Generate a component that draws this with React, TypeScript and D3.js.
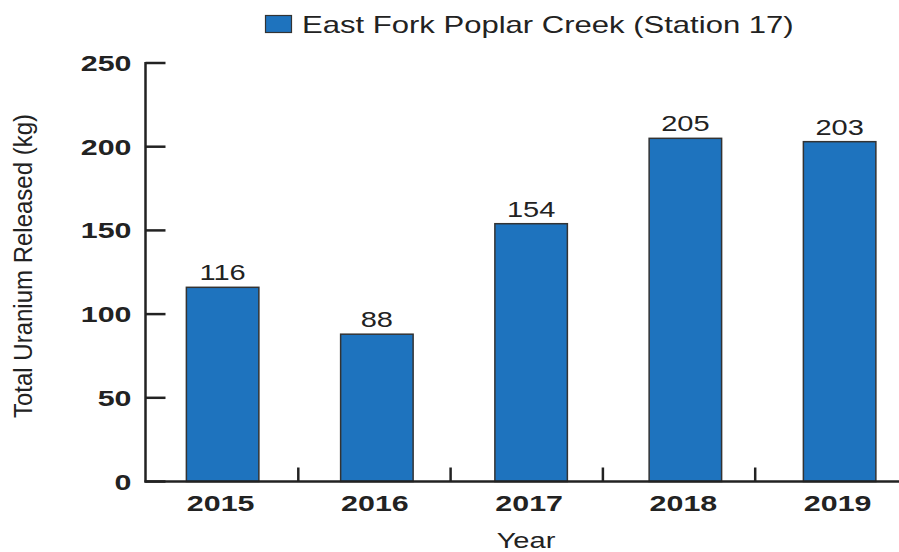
import React from "react";
import * as d3 from "d3";

const years = ["2015", "2016", "2017", "2018", "2019"];
const released = [116, 88, 154, 205, 203];
const yTicks = [0, 50, 100, 150, 200, 250];
const seriesName = "East Fork Poplar Creek (Station 17)";
const yTitle = "Total Uranium Released (kg)";
const xTitle = "Year";

const W = 899;
const H = 552;
const SX = 1.35;
const BAR = "#1e73be";
const INK = "#222";
const FONT = "'Liberation Sans', Arial, sans-serif";

function SText({ x, y, sx = SX, anchor = "middle", size, weight = "normal", children, rotate = 0 }: any) {
  return (
    <g transform={`translate(${x},${y}) scale(${sx},1) rotate(${rotate})`}>
      <text textAnchor={anchor} fontSize={size} fontWeight={weight} fontFamily={FONT} fill={INK}>
        {children}
      </text>
    </g>
  );
}

export default function App() {
  const x = d3.scaleBand().domain(years).range([145.5, 145.5 + 5 * 154.25]).paddingInner(0.53).paddingOuter(0.265);
  const xt = d3.scaleBand().domain(years).range([146, 146 + 5 * 152.3]);
  const y = d3.scaleLinear().domain([0, 250]).range([481.5, 63]);
  const axisX = 145.5;

  return (
    <svg width={W} height={H} style={{ position: "absolute", left: 0, top: 0, background: "#fff" }}>
      <rect x={0} y={0} width={W} height={H} fill="#fff" />
      {/* legend */}
      <rect x={265.5} y={15.5} width={26} height={17} fill={BAR} stroke="#333" strokeWidth={1.2} />
      <SText x={302} y={33} anchor="start" size={23}>{seriesName}</SText>

      {/* bars */}
      {years.map((yr, i) => (
        <g key={yr}>
          <rect
            x={x(yr)}
            y={y(released[i])}
            width={x.bandwidth()}
            height={y(0) - y(released[i])}
            fill={BAR}
            stroke="#333"
            strokeWidth={1.5}
          />
          <SText x={(x(yr) as number) + x.bandwidth() / 2} y={y(released[i]) - 7} size={21.5}>
            {released[i]}
          </SText>
          <SText x={(x(yr) as number) + x.bandwidth() / 2 - 2} y={511} size={22.5} weight="bold">
            {yr}
          </SText>
        </g>
      ))}

      {/* y axis */}
      <line x1={axisX} x2={axisX} y1={y(250) - 1} y2={y(0) + 1} stroke={INK} strokeWidth={2.5} />
      {yTicks.map((t) => (
        <g key={t}>
          <line x1={axisX} x2={axisX + 20} y1={y(t)} y2={y(t)} stroke={INK} strokeWidth={2.5} />
          <SText x={axisX - 14} y={y(t) + 8} anchor="end" size={22.5} weight="bold">
            {t}
          </SText>
        </g>
      ))}

      {/* x axis */}
      <line x1={axisX - 1} x2={W + 10} y1={y(0)} y2={y(0)} stroke={INK} strokeWidth={2.5} />
      {years.slice(1).map((yr) => (
        <line key={yr} x1={xt(yr)} x2={xt(yr)} y1={y(0)} y2={y(0) - 14} stroke={INK} strokeWidth={2.5} />
      ))}

      {/* titles */}
      <SText x={526} y={548} size={21.5}>{xTitle}</SText>
      <SText x={32} y={266} sx={1.05} size={24} rotate={-90}>{yTitle}</SText>
    </svg>
  );
}
